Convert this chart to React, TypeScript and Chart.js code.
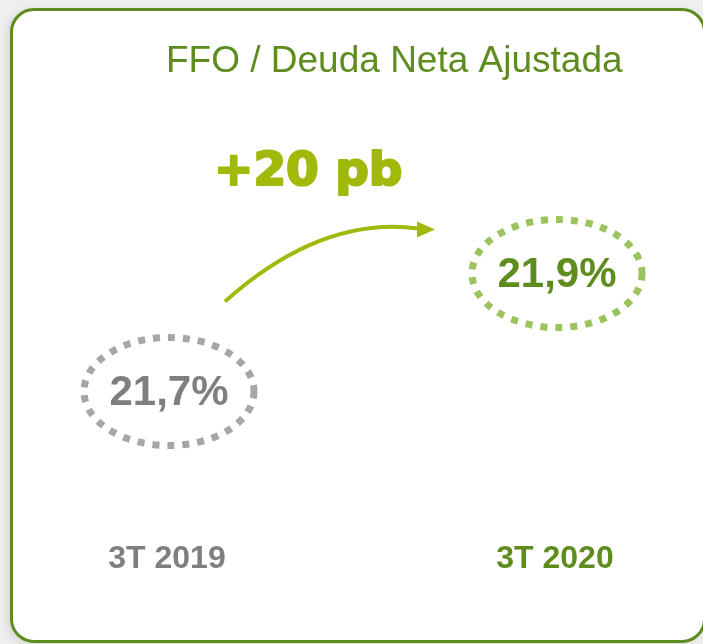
import React, { useEffect, useRef } from 'react';
import { Chart, registerables } from 'chart.js';

Chart.register(...registerables);

// ---- data ----
const categories = ['3T 2019', '3T 2020'];
const values = [21.7, 21.9];
const chartTitle = 'FFO / Deuda Neta Ajustada';
const changeLabel = '+20 pb';
const yRange = [21.5, 22.0];

// ---- styles ----
const GREEN = '#5e8c1e';
const GRAY = '#7f7f7f';
const LIME = '#a0b90b';
const ringColors = ['#a6a6a6', '#9dc35f'];
const textColors = [GRAY, GREEN];
const SANS = '"Liberation Sans", Arial, sans-serif';

const fmt = (v: number) => v.toFixed(1).replace('.', ',') + '%';

const overlay = {
  id: 'overlay',
  afterDatasetsDraw(chart: any) {
    const ctx: CanvasRenderingContext2D = chart.ctx;
    const meta = chart.getDatasetMeta(0);
    const pts = meta.data.map((p: any) => ({ x: p.x, y: p.y }));
    ctx.save();

    // title
    ctx.fillStyle = GREEN;
    ctx.font = `37px ${SANS}`;
    ctx.textAlign = 'left';
    ctx.textBaseline = 'alphabetic';
    ctx.fillText(chartTitle, 166, 72);

    // change label (extra stroke to mimic a black-weight face)
    ctx.fillStyle = LIME;
    ctx.strokeStyle = LIME;
    ctx.lineWidth = 2.2;
    ctx.lineJoin = 'round';
    ctx.font = 'bold 47px "DejaVu Sans", sans-serif';
    ctx.fillText(changeLabel, 214, 185);
    ctx.strokeText(changeLabel, 214, 185);

    // rings + value labels
    pts.forEach((p: any, i: number) => {
      ctx.beginPath();
      ctx.setLineDash([7, 8]);
      ctx.lineWidth = 7;
      ctx.strokeStyle = ringColors[i];
      ctx.ellipse(p.x + 2, p.y, 85, 54, 0, 0, Math.PI * 2);
      ctx.stroke();
      ctx.setLineDash([]);
      ctx.fillStyle = textColors[i];
      ctx.font = `bold 42px ${SANS}`;
      ctx.textAlign = 'center';
      ctx.textBaseline = 'middle';
      ctx.fillText(fmt(values[i]), p.x + 2, p.y + 2);
    });

    // arrow between the two points
    const s = { x: pts[0].x + 58, y: pts[0].y - 90 };
    const e = { x: pts[1].x - 137, y: pts[1].y - 45 };
    const c = { x: (s.x + e.x) / 2, y: e.y - 13 };
    ctx.beginPath();
    ctx.strokeStyle = LIME;
    ctx.lineWidth = 4;
    ctx.lineCap = 'butt';
    ctx.moveTo(s.x, s.y);
    ctx.quadraticCurveTo(c.x, c.y, e.x, e.y);
    ctx.stroke();
    ctx.beginPath();
    ctx.fillStyle = LIME;
    ctx.moveTo(e.x + 17, e.y + 1);
    ctx.lineTo(e.x - 1, e.y - 7);
    ctx.lineTo(e.x - 1, e.y + 9);
    ctx.closePath();
    ctx.fill();

    ctx.restore();
  },
};

export default function App() {
  const ref = useRef<HTMLCanvasElement>(null);
  useEffect(() => {
    if (!ref.current) return;
    const chart = new Chart(ref.current, {
      type: 'line',
      data: {
        labels: categories,
        datasets: [
          { data: values, showLine: false, pointRadius: 0, pointHoverRadius: 0 },
        ],
      },
      options: {
        responsive: false,
        animation: false,
        events: [],
        layout: { padding: { left: 167, right: 148, top: 214.5, bottom: 35.5 } },
        plugins: {
          legend: { display: false },
          tooltip: { enabled: false },
          title: { display: false },
        },
        scales: {
          x: {
            type: 'category',
            offset: false,
            grid: { display: false, drawTicks: false },
            border: { display: false },
            ticks: {
              padding: 30.3,
              autoSkip: false,
              maxRotation: 0,
              color: (c: any) => (c.index === 0 ? GRAY : GREEN),
              font: { family: SANS, size: 32, weight: 'bold' },
            },
          },
          y: { display: false, min: yRange[0], max: yRange[1] },
        },
      },
      plugins: [overlay],
    } as any);
    return () => chart.destroy();
  }, []);

  return (
    <div
      style={{
        position: 'fixed',
        left: 0,
        top: 0,
        width: 703,
        height: 644,
        background: '#efefef',
        overflow: 'hidden',
      }}
    >
      <div
        style={{
          position: 'absolute',
          left: 10,
          top: 8,
          width: 696,
          height: 635,
          boxSizing: 'border-box',
          border: `3px solid ${GREEN}`,
          borderRadius: 24,
          background: '#fff',
          boxShadow: '-3px 2px 8px rgba(0,0,0,0.10)',
        }}
      />
      <canvas
        ref={ref}
        width={703}
        height={644}
        style={{ position: 'absolute', left: 0, top: 0 }}
      />
    </div>
  );
}
